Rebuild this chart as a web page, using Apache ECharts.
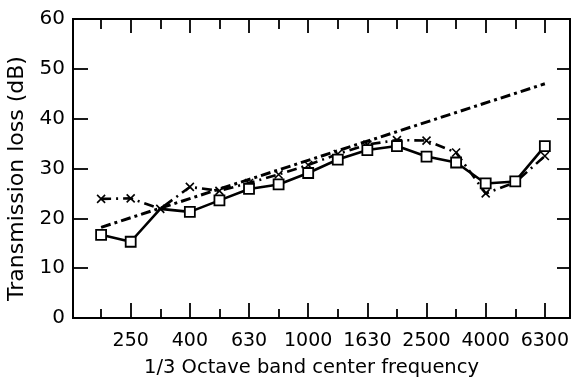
<!DOCTYPE html>
<html>
<head>
<meta charset="utf-8">
<script src="https://cdn.jsdelivr.net/npm/echarts@6/dist/echarts.min.js"></script>
<style>
  html, body { margin: 0; padding: 0; background: #fff; }
  #chart { width: 573px; height: 381px; }
</style>
</head>
<body>
<div id="chart"></div>
<script>
// 1/3 octave band centre frequencies (Hz), as printed on the axis
const bands = ['200', '250', '315', '400', '500', '630', '800', '1000',
               '1250', '1630', '2000', '2500', '3150', '4000', '5000', '6300'];
// Measured transmission loss, dB (open squares, solid line)
const lossSquares = [16.7, 15.3, 21.9, 21.3, 23.6, 25.9, 26.8, 29.1,
                     31.8, 33.7, 34.5, 32.4, 31.2, 27.0, 27.4, 34.5];
// Measured transmission loss, dB (crosses, dashed line)
const lossCrosses = [23.9, 24.0, 21.9, 26.3, 25.5, 27.1, 28.8, 30.7,
                     32.9, 34.8, 35.7, 35.6, 33.2, 25.0, 27.2, 32.5];
// Straight reference line: band index and dB at each end
const trendBand = [0, 15];
const trendLoss = [18.2, 47.0];
// Vertical axis
const yMin = 0, yMax = 60, yStep = 10;

const bandIdx = bands.map((b, i) => i);
const labelledIdx = bandIdx.filter(i => i % 2 === 1);
const plainIdx = bandIdx.filter(i => i % 2 === 0);

const FONT = 'DejaVu Sans';
const black = '#000';

function xAxisBase(position, ticks, tickLen, showLabels) {
  return {
    type: 'value',
    position: position,
    min: -0.95,
    max: 15.85,
    splitLine: { show: false },
    axisLine: { show: true, onZero: false, lineStyle: { color: black, width: 2 } },
    axisTick: {
      show: true, inside: true, length: tickLen, customValues: ticks,
      lineStyle: { color: black, width: 1.8 }
    },
    axisLabel: showLabels ? {
      show: true, customValues: ticks, margin: 14,
      color: black, fontFamily: FONT, fontSize: 19,
      formatter: v => bands[Math.round(v)]
    } : { show: false }
  };
}

const bottomMain = xAxisBase('bottom', labelledIdx, 15, true);
bottomMain.name = '1/3 Octave band center frequency';
bottomMain.nameLocation = 'middle';
bottomMain.nameGap = 40;
bottomMain.nameTextStyle = { color: black, fontFamily: FONT, fontSize: 19.5, padding: [0, 20, 0, 0] };

function yAxisBase(position, showLabels, tickLen) {
  return {
    type: 'value',
    position: position,
    min: yMin, max: yMax, interval: yStep,
    splitLine: { show: false },
    axisLine: { show: true, onZero: false, lineStyle: { color: black, width: 2 } },
    axisTick: { show: true, inside: true, length: tickLen, lineStyle: { color: black, width: 1.8 } },
    axisLabel: showLabels ? {
      show: true, margin: 8, color: black, fontFamily: FONT, fontSize: 20
    } : { show: false }
  };
}

const leftAxis = yAxisBase('left', true, 15);
leftAxis.name = 'Transmission loss (dB)';
leftAxis.nameLocation = 'middle';
leftAxis.nameGap = 38;
leftAxis.nameTextStyle = { color: black, fontFamily: FONT, fontSize: 22, padding: [0, 20, 0, 0] };

const crossPath = 'path://M0,0L10,10M10,0L0,10';

const option = {
  animation: false,
  backgroundColor: '#fff',
  grid: { left: 73, right: 3, top: 19, bottom: 63, outerBoundsMode: 'none', containLabel: false },
  xAxis: [
    bottomMain,
    xAxisBase('bottom', plainIdx, 9, false),
    xAxisBase('top', labelledIdx, 14, false),
    xAxisBase('top', plainIdx, 10, false)
  ],
  yAxis: [
    leftAxis,
    yAxisBase('right', false, 13)
  ],
  series: [
    {
      name: 'trend',
      type: 'line',
      z: 2,
      symbol: 'none',
      data: trendBand.map((b, i) => [b, trendLoss[i]]),
      lineStyle: { color: black, width: 3, type: [10, 4, 3, 4] }
    },
    {
      name: 'crosses',
      type: 'line',
      z: 3,
      data: lossCrosses.map((v, i) => [i, v]),
      symbol: crossPath,
      symbolSize: 8,
      showAllSymbol: true,
      itemStyle: { color: black, borderColor: black, borderWidth: 1.6 },
      lineStyle: { color: black, width: 2.6, type: [10, 5, 2, 5] }
    },
    {
      name: 'squares',
      type: 'line',
      z: 4,
      data: lossSquares.map((v, i) => i === 2 ? { value: [i, v], symbol: 'none' } : [i, v]),
      symbol: 'rect',
      symbolSize: 10,
      showAllSymbol: true,
      itemStyle: { color: '#fff', borderColor: black, borderWidth: 1.8 },
      lineStyle: { color: black, width: 2.6 }
    }
  ]
};

const chart = echarts.init(document.getElementById('chart'), null, { renderer: 'canvas' });
chart.setOption(option);
</script>
</body>
</html>
